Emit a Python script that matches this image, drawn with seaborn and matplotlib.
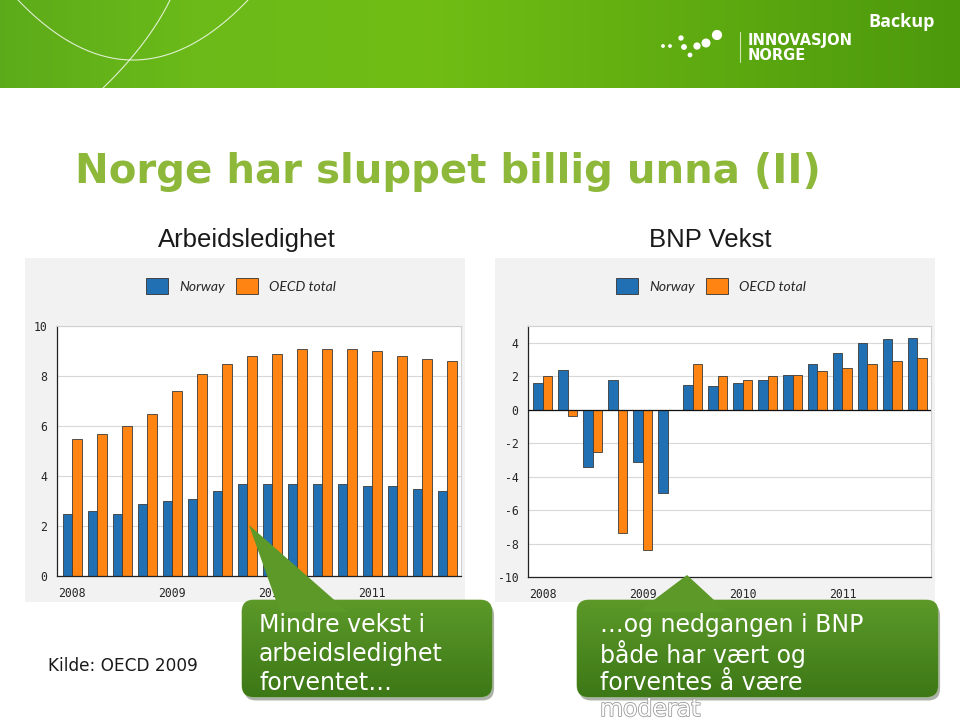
import numpy as np
import pandas as pd
import matplotlib
matplotlib.use('Agg')
import matplotlib.pyplot as plt
import seaborn as sns
from matplotlib.patches import FancyBboxPatch, Polygon, Rectangle
import matplotlib.patheffects as pe

# quarters 2008Q1 .. 2011Q4
quarters = [f"{y}Q{q}" for y in [2008, 2009, 2010, 2011] for q in [1, 2, 3, 4]]
year_labels = ["2008", "2009", "2010", "2011"]
series_names = ["Norway", "OECD total"]

# Arbeidsledighet (unemployment, %)
unemp_norway = [2.5, 2.6, 2.5, 2.9, 3.0, 3.1, 3.4, 3.7, 3.7, 3.7, 3.7, 3.7, 3.6, 3.6, 3.5, 3.4]
unemp_oecd = [5.5, 5.7, 6.0, 6.5, 7.4, 8.1, 8.5, 8.8, 8.9, 9.1, 9.1, 9.1, 9.0, 8.8, 8.7, 8.6]

# BNP vekst (GDP growth, %)
gdp_norway = [1.6, 2.4, -3.4, 1.8, -3.1, -5.0, 1.5, 1.4, 1.6, 1.8, 2.1, 2.7, 3.4, 4.0, 4.2, 4.3]
gdp_oecd = [2.0, -0.4, -2.5, -7.4, -8.4, np.nan, 2.7, 2.0, 1.8, 2.0, 2.1, 2.3, 2.5, 2.7, 2.9, 3.1]

BLUE = '#2170b4'
ORANGE = '#ff8412'
W, H = 960, 720


def long_df(a, b):
    df = pd.DataFrame({'quarter': quarters * 2,
                       'series': [series_names[0]] * 16 + [series_names[1]] * 16,
                       'value': a + b})
    return df.dropna()


def fig_rect(x0, y0, x1, y1):
    # pixel box (top-left origin) -> figure fraction rect
    return [x0 / W, 1 - y1 / H, (x1 - x0) / W, (y1 - y0) / H]


sns.set_theme(style='white')
plt.rcParams['font.family'] = ['DejaVu Sans']

fig = plt.figure(figsize=(9.6, 7.2), dpi=100)
fig.patch.set_facecolor('white')

# background layer
bg = fig.add_axes([0, 0, 1, 1], zorder=0)
bg.set_xlim(0, W)
bg.set_ylim(H, 0)
bg.axis('off')

# green banner with gradient
grad = np.linspace(0, 1, 256)
r = np.interp(grad, [0, 0.2, 0.45, 1], [0.36, 0.42, 0.44, 0.30])
g = np.interp(grad, [0, 0.2, 0.45, 1], [0.67, 0.73, 0.74, 0.60])
b = np.interp(grad, [0, 0.2, 0.45, 1], [0.10, 0.10, 0.08, 0.05])
img = np.dstack([r, g, b]).repeat(2, axis=0)
bg.imshow(img, extent=[0, W, 88, 0], aspect='auto', zorder=1)
t = np.linspace(-1, 1, 100)
bg.plot(133 + 115 * t, 60 - 60 * t ** 2, color='white', lw=0.8, alpha=0.8, zorder=2)
bg.plot(103 + 67 * (t + 1) / 2 + 6 * (1 - t ** 2), 88 - 88 * (t + 1) / 2, color='white', lw=0.8, alpha=0.8, zorder=2)
bg.set_xlim(0, W)
bg.set_ylim(H, 0)

# logo
dots_x = [663, 670, 681, 684, 690, 697, 706, 717]
dots_y = [46, 46, 38, 47, 55, 46, 43, 35]
dots_s = [3, 3, 8, 10, 6, 18, 30, 40]
bg.scatter(dots_x, dots_y, s=dots_s, color='white', zorder=3)
bg.plot([740, 740], [32, 62], color='white', lw=0.8, alpha=0.7, zorder=3)
bg.text(748, 40, "INNOVASJON", color='white', fontsize=10.5, fontweight='bold', va='center', zorder=3)
bg.text(748, 55, "NORGE", color='white', fontsize=10.5, fontweight='bold', va='center', zorder=3)
bg.text(935, 22, "Backup", color='white', fontsize=13, fontweight='bold', ha='right', va='center',
        family='Open Sans', zorder=3)

# title and subtitles
bg.text(75, 172, "Norge har sluppet billig unna (II)", color='#8db83a', fontsize=29,
        fontweight='bold', family='DejaVu Sans', va='center', ha='left')
bg.text(247, 240, "Arbeidsledighet", color='#1a1a1a', fontsize=18.5, family='Liberation Sans',
        ha='center', va='center')
bg.text(710, 240, "BNP Vekst", color='#1a1a1a', fontsize=18.5, family='Liberation Sans',
        ha='center', va='center')
bg.text(48, 666, "Kilde: OECD 2009", color='#1a1a1a', fontsize=12.2, family='DejaVu Sans',
        ha='left', va='center')

# chart panels
for x0 in [25, 495]:
    bg.add_patch(Rectangle((x0, 258), 440, 344, facecolor='#f2f2f2', edgecolor='none', zorder=1))


def draw_chart(rect, df, ylim, yticks, legend_x):
    ax = fig.add_axes(fig_rect(*rect), zorder=2)
    sns.barplot(data=df, x='quarter', y='value', hue='series', order=quarters,
                hue_order=series_names, palette=[BLUE, ORANGE], width=0.76,
                edgecolor='#3a3a3a', linewidth=0.6, saturation=1, errorbar=None, ax=ax)
    ax.set_facecolor('white')
    ax.set_ylim(*ylim)
    ax.set_xlim(-0.6, 15.55)
    ax.set_yticks(yticks)
    ax.set_yticklabels([str(v) for v in yticks], fontsize=8.3, family='DejaVu Sans Mono')
    ax.set_xticks(range(16))
    ax.set_xticklabels([year_labels[i // 4] if i % 4 == 0 else '' for i in range(16)],
                       fontsize=8.3, family='DejaVu Sans Mono')
    ax.tick_params(axis='x', direction='out', length=4, width=0.6, color='#333', pad=4)
    ax.tick_params(axis='y', length=0, pad=7)
    ax.grid(axis='y', color='#d8d8d8', lw=0.8)
    ax.set_axisbelow(True)
    ax.set_xlabel('')
    ax.set_ylabel('')
    for s in ['top', 'right']:
        ax.spines[s].set_color('#d0d0d0')
        ax.spines[s].set_linewidth(0.8)
    for s in ['left', 'bottom']:
        ax.spines[s].set_color('#222')
        ax.spines[s].set_linewidth(0.9)
    if ylim[0] < 0:
        ax.axhline(0, color='#111', lw=0.9, zorder=3)
    leg = ax.legend(loc='center', bbox_to_anchor=(legend_x / W, 1 - 286 / H),
                    bbox_transform=fig.transFigure, ncol=2, frameon=False,
                    handlelength=1.6, handleheight=1.3, columnspacing=0.8, handletextpad=0.8,
                    prop={'family': 'Lato', 'style': 'italic', 'size': 10})
    for h in leg.legend_handles:
        h.set_edgecolor('#333')
        h.set_linewidth(0.6)
    return ax


draw_chart((57, 326, 461, 576), long_df(unemp_norway, unemp_oecd), (0, 10),
           [0, 2, 4, 6, 8, 10], 241)
draw_chart((528, 326, 931, 577), long_df(gdp_norway, gdp_oecd), (-10, 5),
           [-10, -8, -6, -4, -2, 0, 2, 4], 711)

# callouts on top
top = fig.add_axes([0, 0, 1, 1], zorder=5)
top.set_xlim(0, W)
top.set_ylim(H, 0)
top.axis('off')
top.patch.set_alpha(0)

CALL_TOP = np.array([0.36, 0.60, 0.16])
CALL_BOT = np.array([0.24, 0.47, 0.09])
vgrad = np.linspace(0, 1, 64)[:, None, None]
box_img = (CALL_TOP * (1 - vgrad) + CALL_BOT * vgrad).repeat(2, axis=1)
shadow = [pe.SimplePatchShadow(offset=(1.5, -2.5), alpha=0.35), pe.Normal()]


def callout(x0, y0, w, h, tip, base, lines, tx):
    top.add_patch(Polygon([tip, (base[0], y0 + 12), (base[1], y0 + 12)], closed=True,
                          facecolor=tuple(CALL_TOP), edgecolor='none', zorder=2))
    box = FancyBboxPatch((x0 + 12, y0 + 12), w - 24, h - 24, boxstyle='round,pad=12',
                         facecolor=tuple(CALL_BOT), edgecolor='#7fae55', linewidth=0.6,
                         zorder=1, path_effects=shadow)
    top.add_patch(box)
    im = top.imshow(box_img, extent=[x0, x0 + w, y0 + h, y0], aspect='auto', zorder=1.5)
    im.set_clip_path(box)
    for i, line in enumerate(lines):
        top.text(tx, y0 + 25 + 29 * i, line, color='white', fontsize=17, va='center', zorder=3,
                 clip_on=False)


callout(242, 600, 250, 97, (249, 525), (280, 348),
        ["Mindre vekst i", "arbeidsledighet", "forventet\u2026"], 259)
callout(577, 600, 361, 97, (687, 575), (638, 727),
        ["\u2026og nedgangen i BNP", "både har vært og", "forventes å være"], 600)
top.text(600, 709, "moderat", color='white', fontsize=17, va='center', zorder=3,
         path_effects=[pe.withStroke(linewidth=1.2, foreground='#9a9a9a')])
top.set_xlim(0, W)
top.set_ylim(H, 0)

fig.savefig('out.png', dpi=100, facecolor='white')
